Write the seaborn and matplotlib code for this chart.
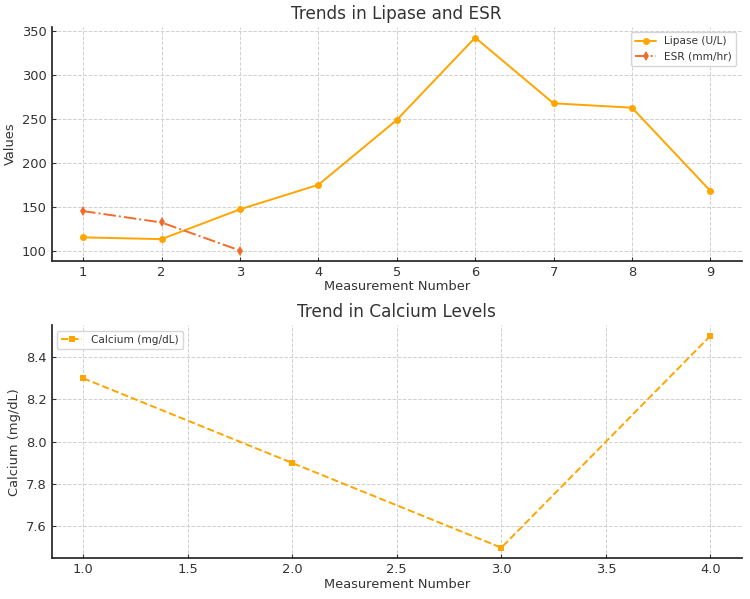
import matplotlib
matplotlib.use("Agg")
import matplotlib.pyplot as plt
import seaborn as sns
import pandas as pd

lipase_x = [1, 2, 3, 4, 5, 6, 7, 8, 9]
lipase = [115, 113, 147, 175, 249, 343, 268, 263, 168]
esr_x = [1, 2, 3]
esr = [145, 132, 100]
calcium_x = [1, 2, 3, 4]
calcium = [8.3, 7.9, 7.5, 8.5]

sns.set_theme(style="ticks")
plt.rcParams['font.family'] = ['DejaVu Sans']
plt.rcParams['text.color'] = '#333333'
plt.rcParams['axes.labelcolor'] = '#333333'
plt.rcParams['xtick.color'] = '#333333'
plt.rcParams['ytick.color'] = '#333333'

fig = plt.figure(figsize=(7.5, 5.99), dpi=100)
ax1 = fig.add_axes([0.069, 0.564, 0.920, 0.391])
ax2 = fig.add_axes([0.069, 0.068, 0.920, 0.389])

sns.lineplot(x=lipase_x, y=lipase, ax=ax1, color='#FFA500', marker='o',
             markersize=5, markeredgewidth=0, linewidth=1.4, label='Lipase (U/L)')
sns.lineplot(x=esr_x, y=esr, ax=ax1, color='#F26B2A', marker='d',
             markersize=5, markeredgewidth=0, linewidth=1.4, linestyle='-.',
             label='ESR (mm/hr)')
ax1.set_title('Trends in Lipase and ESR', fontsize=12.2)
ax1.set_xlabel('Measurement Number', fontsize=9.4, labelpad=1)
ax1.set_ylabel('Values', fontsize=9.4)
ax1.set_xticks(lipase_x)
ax1.grid(True, linestyle='--', color='#d0d0d0', linewidth=0.7)
ax1.legend(loc='upper right', fontsize=7.6)

sns.lineplot(x=calcium_x, y=calcium, ax=ax2, color='#FFA500', marker='s',
             markersize=4.7, markeredgewidth=0, linewidth=1.4, linestyle='--',
             label='Calcium (mg/dL)')
ax2.set_title('Trend in Calcium Levels', fontsize=12.2)
ax2.set_xlabel('Measurement Number', fontsize=9.4, labelpad=1)
ax2.set_ylabel('Calcium (mg/dL)', fontsize=9.4)
ax2.grid(True, linestyle='--', color='#d0d0d0', linewidth=0.7)
ax2.legend(loc='upper left', fontsize=7.6)

for ax in (ax1, ax2):
    sns.despine(ax=ax)
    ax.tick_params(labelsize=9.4, direction='in', length=3, width=0.8)

fig.savefig('out.png', dpi=100)
